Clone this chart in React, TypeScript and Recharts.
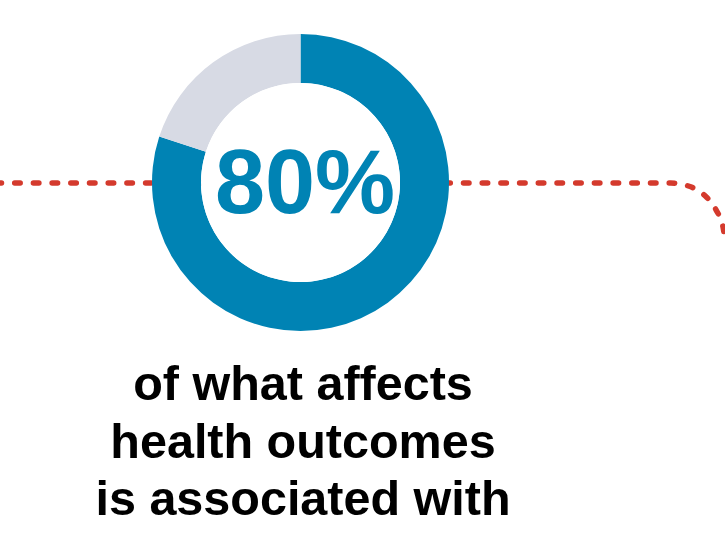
import React from 'react'
import { PieChart, Pie, Cell, LineChart, Line, XAxis, YAxis } from 'recharts'

// share of health outcomes vs the rest
const shareNames = ['associated', 'other']
const shareValues = [80, 20]
const shareColors = ['#0083B4', '#D7DAE4']

// dotted connector running behind the donut, bending down at the right edge
const pathX = [0, 678, 696, 712, 724, 731, 733]
const pathY = [183, 183, 186, 195, 210, 227, 240]

const headline = '80%'
const captionLines = ['of what affects', 'health outcomes', 'is associated with']

const W = 725
const H = 538

export default function App() {
  const shareData = shareNames.map((name, i) => ({ name, value: shareValues[i] }))
  const pathData = pathX.map((x, i) => ({ x, y: pathY[i] }))
  const holeData = [{ name: 'hole', value: 1 }]

  return (
    <div style={{ position: 'absolute', top: 0, left: 0, width: W, height: H, background: '#fff', overflow: 'hidden' }}>
      <div style={{ position: 'absolute', top: 0, left: 0 }}>
        <LineChart width={W} height={H} data={pathData} margin={{ top: 0, right: 0, bottom: 0, left: 0 }}>
          <XAxis dataKey="x" type="number" domain={[0, W]} hide />
          <YAxis dataKey="y" type="number" domain={[0, H]} reversed hide />
          <Line
            dataKey="y"
            type="monotone"
            stroke="#D43A2D"
            strokeWidth={5.5}
            strokeDasharray="5.5 13.2"
            strokeDashoffset={4}
            strokeLinecap="round"
            dot={false}
            activeDot={false}
            isAnimationActive={false}
          />
        </LineChart>
      </div>
      <div style={{ position: 'absolute', top: 0, left: 0 }}>
        <PieChart width={W} height={H} margin={{ top: 0, right: 0, bottom: 0, left: 0 }}>
          <Pie
            data={shareData}
            dataKey="value"
            cx={300.5}
            cy={182.5}
            innerRadius={99.5}
            outerRadius={148.5}
            startAngle={90}
            endAngle={-270}
            stroke="none"
            isAnimationActive={false}
          >
            {shareData.map((d, i) => (
              <Cell key={d.name} fill={shareColors[i]} />
            ))}
          </Pie>
          <Pie
            data={holeData}
            dataKey="value"
            cx={300.5}
            cy={182.5}
            innerRadius={0}
            outerRadius={99.5}
            fill="#ffffff"
            stroke="none"
            isAnimationActive={false}
          />
        </PieChart>
      </div>
      <svg width={W} height={H} style={{ position: 'absolute', top: 0, left: 0 }}>
        <text
          x={305}
          y={213}
          textAnchor="middle"
          fontFamily="'Liberation Sans', Arial, sans-serif"
          fontWeight={700}
          fontSize={90}
          fill="#0083B4"
        >
          {headline}
        </text>
        {captionLines.map((line, i) => (
          <text
            key={line}
            x={303}
            y={400 + i * 57.5}
            textAnchor="middle"
            fontFamily="'Liberation Sans', Arial, sans-serif"
            fontWeight={700}
            fontSize={48.5}
            fill="#000"
          >
            {line}
          </text>
        ))}
      </svg>
    </div>
  )
}
